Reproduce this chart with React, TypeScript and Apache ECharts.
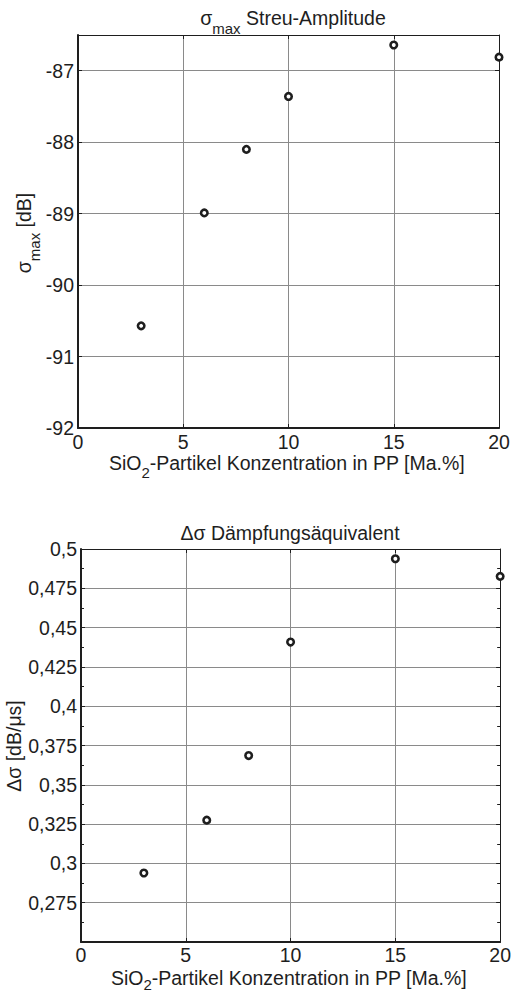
import React, { useEffect, useRef } from "react";
import * as echarts from "echarts";

const concentrations = [3, 6, 8, 10, 15, 20];
const sigmaMax = [-90.57, -88.99, -88.1, -87.36, -86.64, -86.81];
const deltaSigma = [0.2939, 0.3275, 0.3686, 0.4408, 0.4938, 0.4826];
const xTicks = { min: 0, max: 20, interval: 5 };
const topY = { min: -92, max: -86.5, interval: 1 };
const botY = { min: 0.25, max: 0.5, interval: 0.025 };

const FONT = "'Liberation Sans', Arial, sans-serif";
const FS = 19.5;
const SFS = 15;
const DARK = "#1e1e1e";
const GRID = "#8a8a8a";

function measure(text: string, size: number): number {
  const c = document.createElement("canvas").getContext("2d");
  if (!c) return text.length * size * 0.55;
  c.font = `${size}px ${FONT}`;
  return c.measureText(text).width;
}

// pieces: [text, isSub]
function composite(
  cx: number,
  cy: number,
  pieces: [string, boolean][],
  subShift: number,
  rotated: boolean
) {
  const widths = pieces.map(([t, s]) => measure(t, s ? SFS : FS));
  const total = widths.reduce((a, b) => a + b, 0);
  let off = -total / 2;
  const els: any[] = [];
  pieces.forEach(([t, s], i) => {
    const shift = s ? subShift : 0;
    const x = rotated ? cx + shift : cx + off;
    const y = rotated ? cy - off : cy + shift;
    els.push({
      type: "text",
      x,
      y,
      rotation: rotated ? Math.PI / 2 : 0,
      style: {
        text: t,
        fontFamily: FONT,
        fontSize: s ? SFS : FS,
        lineHeight: s ? 11 : 16,
        fill: DARK,
        align: "left",
        verticalAlign: "middle",
      },
    });
    off += widths[i];
  });
  return els;
}

export default function App() {
  const ref = useRef<HTMLDivElement>(null);
  useEffect(() => {
    if (!ref.current) return;
    const chart = echarts.init(ref.current, null, { renderer: "svg" });

    const mkX = (gridIndex: number, pos: "bottom" | "top", margin: number) => ({
      type: "value",
      gridIndex,
      position: pos,
      min: xTicks.min,
      max: xTicks.max,
      interval: xTicks.interval,
      axisLine: { show: true, onZero: false, lineStyle: { color: DARK, width: pos === "bottom" ? 2 : 1 } },
      axisTick: { show: true, inside: true, length: 4, lineStyle: { color: DARK } },
      axisLabel: {
        show: pos === "bottom",
        fontFamily: FONT,
        fontSize: FS,
        lineHeight: 16,
        color: DARK,
        margin,
      },
      splitLine: { show: pos === "bottom", lineStyle: { color: GRID, width: 1 } },
    });

    const mkY = (
      gridIndex: number,
      pos: "left" | "right",
      r: { min: number; max: number; interval: number },
      minor: boolean,
      formatter?: (v: number) => string
    ) => ({
      type: "value",
      gridIndex,
      position: pos,
      min: r.min,
      max: r.max,
      interval: r.interval,
      axisLine: { show: true, onZero: false, lineStyle: { color: DARK, width: pos === "left" ? 2 : 1 } },
      axisTick: { show: true, inside: true, length: 4, lineStyle: { color: DARK } },
      minorTick: { show: minor, splitNumber: 2, length: 3, lineStyle: { color: DARK } },
      axisLabel: {
        show: pos === "left",
        fontFamily: FONT,
        fontSize: FS,
        color: DARK,
        margin: 4,
        showMaxLabel: formatter ? true : false,
        formatter,
      },
      splitLine: { show: pos === "left", lineStyle: { color: GRID, width: 1 } },
    });

    const botFormatter = (v: number) => {
      if (Math.abs(v - botY.min) < 1e-9) return "";
      return String(+v.toFixed(3)).replace(".", ",");
    };

    const marker = {
      type: "scatter",
      symbol: "circle",
      symbolSize: 6.5,
      clip: false,
      itemStyle: { color: "#ffffff", borderColor: DARK, borderWidth: 2.6, opacity: 1 },
    };

    const xName: [string, boolean][] = [
      ["SiO", false],
      ["2", true],
      ["-Partikel Konzentration in PP [Ma.%]", false],
    ];

    chart.setOption({
      animation: false,
      backgroundColor: "#ffffff",
      grid: [
        { left: 78, top: 35, width: 421, height: 393 },
        { left: 81, top: 549, width: 421, height: 393 },
      ],
      xAxis: [mkX(0, "bottom", 6), mkX(0, "top", 6), mkX(1, "bottom", 5), mkX(1, "top", 6)],
      yAxis: [
        mkY(0, "left", topY, false),
        mkY(0, "right", topY, false),
        mkY(1, "left", botY, true, botFormatter),
        mkY(1, "right", botY, true, botFormatter),
      ],
      series: [
        {
          ...marker,
          xAxisIndex: 0,
          yAxisIndex: 0,
          data: concentrations.map((c, i) => [c, sigmaMax[i]]),
        },
        {
          ...marker,
          xAxisIndex: 2,
          yAxisIndex: 2,
          data: concentrations.map((c, i) => [c, deltaSigma[i]]),
        },
      ],
      graphic: [
        ...composite(293, 18, [["σ", false], ["max", true], [" Streu-Amplitude", false]], 10, false),
        ...composite(287, 463, xName, 9, false),
        ...composite(24, 233, [["σ", false], ["max", true], [" [dB]", false]], 10, true),
        ...composite(290, 533, [["Δσ Dämpfungsäquivalent", false]], 0, false),
        ...composite(289, 977.5, xName, 7, false),
        ...composite(14, 746, [["Δσ [dB/μs]", false]], 0, true),
      ],
    });
    return () => chart.dispose();
  }, []);

  return (
    <div
      ref={ref}
      style={{ position: "absolute", left: 0, top: 0, width: 514, height: 992, background: "#fff" }}
    />
  );
}
